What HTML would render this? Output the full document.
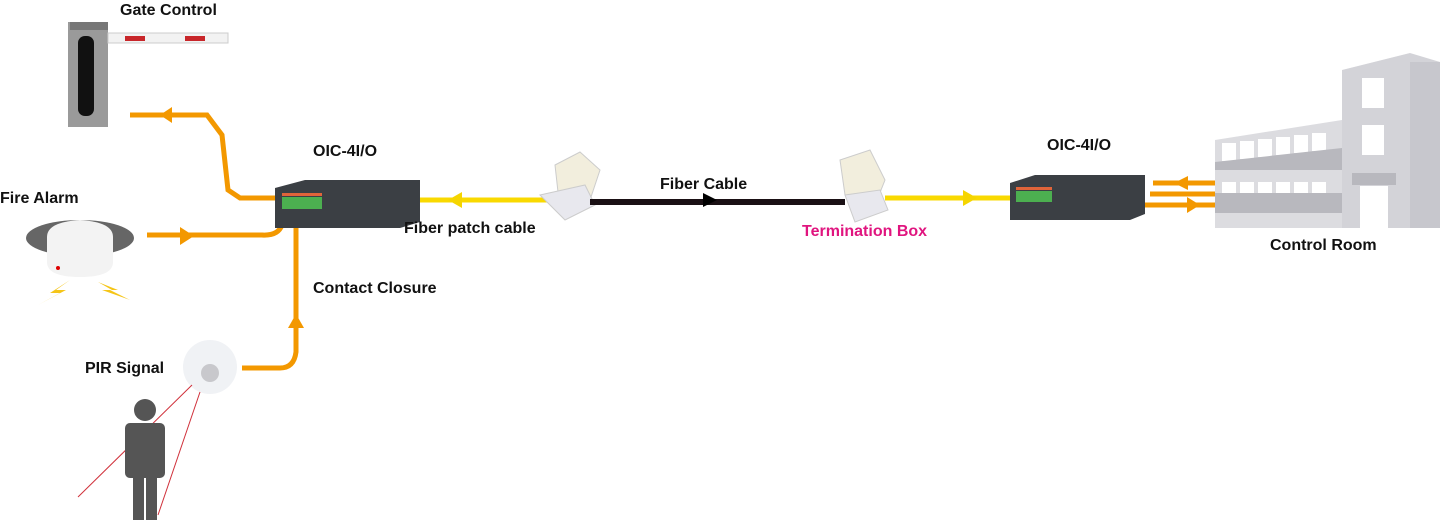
<!DOCTYPE html>
<html><head><meta charset="utf-8"><style>
html,body{margin:0;padding:0;background:#fff;width:1449px;height:520px;overflow:hidden}
svg text{font-family:"Liberation Sans",sans-serif;font-weight:bold;font-size:16px;fill:#111}
</style></head><body>
<svg width="1449" height="520" viewBox="0 0 1449 520" xmlns="http://www.w3.org/2000/svg">
<!-- Gate -->
<rect x="68" y="22" width="40" height="105" fill="#9a9a9a"/>
<rect x="70" y="22" width="38" height="8" fill="#777"/>
<rect x="78" y="36" width="16" height="80" rx="7" fill="#111"/>
<rect x="108" y="33" width="120" height="10" fill="#f2f2f2" stroke="#ccc"/>
<rect x="125" y="36" width="20" height="5" fill="#c8262a"/>
<rect x="185" y="36" width="20" height="5" fill="#c8262a"/>
<text x="120" y="15">Gate Control</text>
<!-- orange connectors -->
<g fill="none" stroke="#f39800" stroke-width="5">
<path d="M130 115 H207 L222 135 L228 190 L240 198 H278"/>
<path d="M147 235 H262 Q278 236 282 225 V212"/>
<path d="M296 215 V352 Q294 368 280 368 H242"/>
<path d="M1153 183 H1215"/><path d="M1150 194 H1215"/><path d="M1145 205 H1218"/>
</g>
<g fill="#f39800">
<path d="M160 107 L172 115 L160 123 Z" transform="rotate(180 166 115)"/>
<path d="M180 227 L194 236 L180 245 Z"/>
<path d="M288 328 L296 314 L304 328 Z"/>
<path d="M1188 176 L1174 183 L1188 190 Z"/>
<path d="M1187 197 L1200 205 L1187 213 Z"/>
</g>
<!-- fire alarm -->
<ellipse cx="80" cy="238" rx="54" ry="18" fill="#666"/>
<path d="M47 237 Q47 222 80 220 Q113 222 113 237 V262 Q113 277 80 277 Q47 277 47 262 Z" fill="#f3f3f3"/>
<circle cx="58" cy="268" r="2" fill="#d00"/>
<path d="M70 280 L50 293 L60 293 L38 305 L66 290 L56 290 Z" fill="#f5c518"/>
<path d="M98 282 L118 290 L110 290 L130 300 L102 290 L112 290 Z" fill="#f5c518"/>
<text x="0" y="203">Fire Alarm</text>
<!-- OIC 1 -->
<path d="M275 188 L305 180 H420 V222 L400 228 H275 Z" fill="#3b3f44"/>
<rect x="282" y="197" width="40" height="12" fill="#4caf50"/>
<rect x="282" y="193" width="40" height="3" fill="#e0643a"/>
<text x="313" y="156">OIC-4I/O</text>
<!-- PIR -->
<circle cx="210" cy="367" r="27" fill="#f0f2f5"/>
<circle cx="210" cy="373" r="9" fill="#c8c8cc"/>
<text x="85" y="373">PIR Signal</text>
<g stroke="#d0303a" stroke-width="1"><line x1="192" y1="385" x2="78" y2="497"/><line x1="200" y1="392" x2="158" y2="515"/></g>
<g fill="#555"><circle cx="145" cy="410" r="11"/><rect x="125" y="423" width="40" height="55" rx="5"/><rect x="133" y="470" width="11" height="50"/><rect x="146" y="470" width="11" height="50"/></g>
<text x="313" y="293">Contact Closure</text>
<!-- yellow -->
<g stroke="#f9d900" stroke-width="5"><line x1="420" y1="200" x2="548" y2="200"/><line x1="885" y1="198" x2="1010" y2="198"/></g>
<path d="M462 192 L448 200 L462 208 Z M963 190 L977 198 L963 206 Z" fill="#f5d500"/>
<text x="404" y="233">Fiber patch cable</text>
<!-- term boxes -->
<path d="M555 165 L580 152 L600 170 L590 200 L560 210 Z" fill="#f2eedd" stroke="#ccc"/>
<path d="M540 195 L585 185 L595 205 L565 220 Z" fill="#e8e8ee" stroke="#ccc"/>
<path d="M840 160 L870 150 L885 180 L875 205 L845 195 Z" fill="#f2eedd" stroke="#ccc"/>
<path d="M845 195 L880 190 L888 210 L855 222 Z" fill="#e8e8ee" stroke="#ccc"/>
<path d="M590 202 H845" stroke="#1a1014" stroke-width="6"/>
<path d="M703 193 L717 200 L703 207 Z" fill="#000"/>
<text x="660" y="189">Fiber Cable</text>
<text x="802" y="236" style="fill:#e0157f">Termination Box</text>
<!-- OIC 2 -->
<path d="M1010 183 L1035 175 H1145 V214 L1130 220 H1010 Z" fill="#3b3f44"/>
<rect x="1016" y="191" width="36" height="11" fill="#4caf50"/>
<rect x="1016" y="187" width="36" height="3" fill="#e0643a"/>
<text x="1047" y="150">OIC-4I/O</text>
<!-- building -->
<path d="M1342 70 L1410 53 L1440 62 V228 H1342 Z" fill="#d3d3d8"/>
<rect x="1410" y="62" width="30" height="166" fill="#c7c7cd"/>
<path d="M1215 140 L1342 120 V228 H1215 Z" fill="#dcdce0"/>
<g fill="#fff"><rect x="1362" y="78" width="22" height="30"/><rect x="1362" y="125" width="22" height="30"/>
<rect x="1222" y="143" width="14" height="18"/><rect x="1240" y="141" width="14" height="18"/><rect x="1258" y="139" width="14" height="18"/><rect x="1276" y="137" width="14" height="18"/><rect x="1294" y="135" width="14" height="18"/><rect x="1312" y="133" width="14" height="18"/>
<rect x="1222" y="182" width="14" height="18"/><rect x="1240" y="182" width="14" height="18"/><rect x="1258" y="182" width="14" height="18"/><rect x="1276" y="182" width="14" height="18"/><rect x="1294" y="182" width="14" height="18"/><rect x="1312" y="182" width="14" height="18"/>
<rect x="1360" y="186" width="28" height="42"/></g>
<g fill="#b8b8be"><path d="M1215 162 L1342 148 V170 H1215 Z"/><rect x="1215" y="193" width="127" height="20"/><rect x="1352" y="173" width="44" height="12"/></g>
<text x="1270" y="250">Control Room</text>
</svg>
</body></html>
